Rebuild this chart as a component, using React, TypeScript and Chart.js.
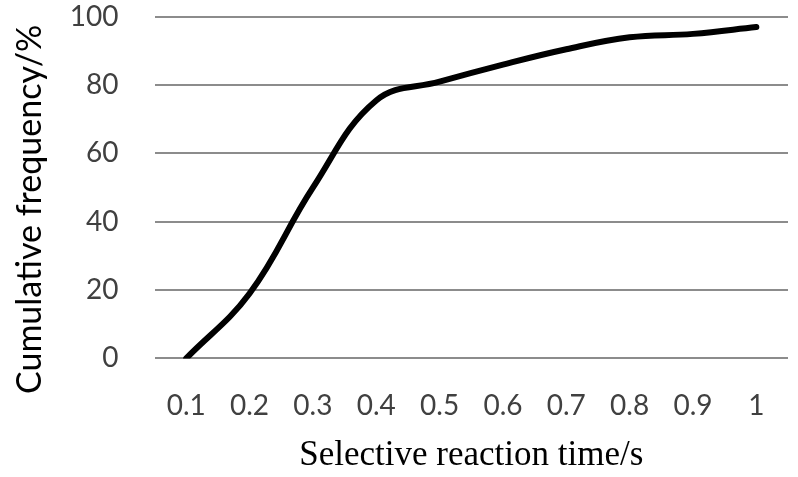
import React, { useEffect, useRef } from "react";
import { Chart, registerables } from "chart.js";

Chart.register(...registerables);

const categories = ["0.1", "0.2", "0.3", "0.4", "0.5", "0.6", "0.7", "0.8", "0.9", "1"];
const cumulativeFrequency = [0, 19, 50, 75.5, 81, 86, 90.5, 94, 95, 97];
const yTicks = [0, 20, 40, 60, 80, 100];

export default function App() {
  const ref = useRef<HTMLCanvasElement | null>(null);
  useEffect(() => {
    document.body.style.margin = "0";
    const ctx = ref.current!;
    const chart = new Chart(ctx, {
      type: "line",
      data: {
        labels: categories,
        datasets: [
          {
            data: cumulativeFrequency,
            borderColor: "#000000",
            borderWidth: 6,
            pointRadius: 0,
            tension: 0.4,
            borderCapStyle: "round",
            fill: false,
          },
        ],
      },
      options: {
        animation: false,
        responsive: false,
        devicePixelRatio: 1,
        layout: { padding: { top: 0, right: 10, left: 0, bottom: 0 } },
        plugins: { legend: { display: false }, tooltip: { enabled: false } },
        scales: {
          x: {
            offset: true,
            grid: {
              display: true,
              drawOnChartArea: false,
              drawTicks: true,
              tickLength: 31,
              tickColor: "rgba(0,0,0,0)",
            },
            border: { display: false },
            ticks: {
              color: "#404040",
              font: { family: "Lato", size: 28 },
              padding: 0,
              maxRotation: 0,
              autoSkip: false,
            },
            title: {
              display: true,
              text: "Selective reaction time/s",
              color: "#000000",
              font: { family: "Liberation Serif", size: 35 },
              padding: { top: 12, bottom: 0 },
            },
          },
          y: {
            min: 0,
            max: 100,
            afterBuildTicks: (axis: any) => {
              axis.ticks = yTicks.map((v) => ({ value: v }));
            },
            grid: {
              color: "#8c8c8c",
              lineWidth: 2,
              drawTicks: true,
              tickLength: 36,
              tickColor: "rgba(0,0,0,0)",
            },
            border: { display: false },
            ticks: {
              color: "#404040",
              font: { family: "Lato", size: 28 },
              padding: 0,
            },
            title: {
              display: true,
              text: "Cumulative frequency/%     ",
              color: "#000000",
              font: { family: "Lato", size: 34 },
              padding: { top: 10, bottom: 19 },
            },
          },
        },
      },
    });
    return () => chart.destroy();
  }, []);
  return (
    <div style={{ position: "fixed", left: 0, top: 0, width: 798, height: 477, background: "#fff" }}>
      <canvas ref={ref} width={798} height={477} style={{ width: 798, height: 477 }} />
    </div>
  );
}
